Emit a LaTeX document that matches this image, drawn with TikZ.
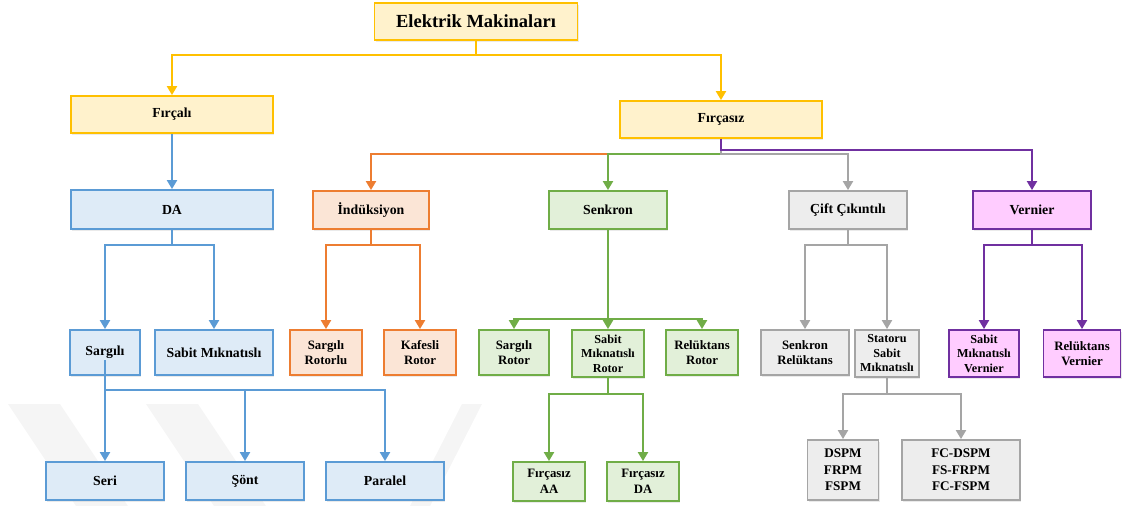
\documentclass[tikz,border=0pt]{standalone}
\usepackage{fontspec}
\setmainfont{Liberation Serif}
\usetikzlibrary{arrows.meta,shadows}
\definecolor{ylwD}{HTML}{FFC000}\definecolor{ylwL}{HTML}{FFF2CC}
\definecolor{bluD}{HTML}{5B9BD5}\definecolor{bluL}{HTML}{DEEBF7}
\definecolor{orgD}{HTML}{ED7D31}\definecolor{orgL}{HTML}{FBE5D6}
\definecolor{grnD}{HTML}{70AD47}\definecolor{grnL}{HTML}{E2F0D9}
\definecolor{gryD}{HTML}{A5A5A5}\definecolor{gryL}{HTML}{EDEDED}
\definecolor{prpD}{HTML}{7030A0}\definecolor{prpL}{HTML}{FFCCFF}
\definecolor{wmark}{HTML}{F5F5F5}
\begin{document}
\begin{tikzpicture}[x=1pt,y=-1pt,
  box/.style={draw, line width=1.8pt, inner sep=0pt, align=center,
    font=\bfseries\fontsize{13.8}{15}\selectfont,
    drop shadow={shadow xshift=1pt, shadow yshift=-2pt, opacity=0.18, fill=black!45}},
  wh/.style 2 args={minimum width=#1pt, minimum height=#2pt},
  ybox/.style={box, draw=ylwD, fill=ylwL},
  bbox/.style={box, draw=bluD, fill=bluL},
  obox/.style={box, draw=orgD, fill=orgL},
  gbox/.style={box, draw=grnD, fill=grnL},
  abox/.style={box, draw=gryD, fill=gryL},
  pbox/.style={box, draw=prpD, fill=prpL},
  twoline/.style={font=\bfseries\fontsize{12.8}{15.5}\selectfont},
  threeline/.style={font=\bfseries\fontsize{12.2}{14.5}\selectfont},
  link/.style={line width=2pt, -{Triangle[width=10pt,length=9pt]}},
  band/.style={fill=wmark},
]
\useasboundingbox (0,0) rectangle (1128,506);

% faint background bands
\fill[band] (8,404) -- (60,404) -- (128,506) -- (76,506) -- cycle;
\fill[band] (146,404) -- (198,404) -- (266,506) -- (214,506) -- cycle;
\fill[band] (462,404) -- (482,404) -- (430,506) -- (410,506) -- cycle;

% top levels
\node[ybox, wh={203}{37}, font=\bfseries\fontsize{18.5}{20}\selectfont] (em) at (476,21.5) {Elektrik Makinaları};
\node[ybox, wh={202}{37}] (fircali) at (172,114.5) {Fırçalı};
\node[ybox, wh={202}{37}] (fircasiz) at (721,119.5) {Fırçasız};

% second level
\node[bbox, wh={202}{39}] (da) at (172,209.5) {DA};
\node[obox, wh={116}{38}] (ind) at (371,210) {İndüksiyon};
\node[gbox, wh={118}{38}] (senk) at (608,210) {Senkron};
\node[abox, wh={118}{38}] (cift) at (848,210) {Çift Çıkıntılı};
\node[pbox, wh={118}{38}] (vern) at (1032,210) {Vernier};

% third level
\node[bbox, wh={70}{45}] (sargili) at (105,352.5) {Sargılı};
\node[bbox, wh={118}{45}] (sabitm) at (214,352.5) {Sabit Mıknatıslı};
\node[obox, twoline, wh={72}{45}] (srotorlu) at (326,352.5) {Sargılı\\Rotorlu};
\node[obox, twoline, wh={72}{45}] (kafesli) at (420,352.5) {Kafesli\\Rotor};
\node[gbox, twoline, wh={70}{45}] (srotor) at (514,352.5) {Sargılı\\Rotor};
\node[gbox, threeline, wh={72}{47}] (smrotor) at (608,353.5) {Sabit\\Mıknatıslı\\Rotor};
\node[gbox, twoline, wh={72}{45}] (relrotor) at (702,352.5) {Relüktans\\Rotor};
\node[abox, twoline, wh={88}{45}] (senrel) at (805,352.5) {Senkron\\Relüktans};
\node[abox, threeline, wh={64}{47}] (statoru) at (887,353.5) {Statoru\\Sabit\\Mıknatıslı};
\node[pbox, threeline, wh={70}{47}] (smvern) at (984,353.5) {Sabit\\Mıknatıslı\\Vernier};
\node[pbox, twoline, wh={77}{47}] (relvern) at (1082,353.5) {Relüktans\\Vernier};

% bottom level
\node[bbox, wh={118}{38}] (seri) at (105,481) {Seri};
\node[bbox, wh={118}{38}] (sont) at (245,481) {Şönt};
\node[bbox, wh={118}{38}] (paralel) at (385,481) {Paralel};
\node[gbox, twoline, wh={72}{39}] (faa) at (549,481.5) {Fırçasız\\AA};
\node[gbox, twoline, wh={72}{39}] (fda) at (643,481.5) {Fırçasız\\DA};
\node[abox, wh={71}{60}, font=\bfseries\fontsize{13.2}{16.5}\selectfont] (dspm) at (843,470) {DSPM\\FRPM\\FSPM};
\node[abox, wh={118}{60}, font=\bfseries\fontsize{13.2}{16.5}\selectfont] (fcdspm) at (961,470) {FC-DSPM\\FS-FRPM\\FC-FSPM};

% connectors
\draw[link, ylwD] (em.south) -- ++(0,14) -| (fircali.north);
\draw[link, ylwD] (em.south) -- ++(0,14) -| (fircasiz.north);
\draw[link, bluD] (fircali) -- (da);

\draw[link, orgD] (fircasiz.south) -- ++(0,15) -| (ind.north);
\draw[link, grnD] (fircasiz.south) -- ++(0,15) -| (senk.north);
\draw[link, gryD] (fircasiz.south) -- ++(0,15) -| (cift.north);
\draw[link, prpD] (fircasiz.south) -- ++(0,11) -| (vern.north);

\draw[link, bluD] (da.south) -- ++(0,15) -| (sargili.north);
\draw[link, bluD] (da.south) -- ++(0,15) -| (sabitm.north);

\coordinate (sgstart) at ([yshift=-7.5pt]sargili.center);
\draw[link, bluD] (sgstart) -- ++(0,30) -| (seri.north);
\draw[link, bluD] (sgstart) -- ++(0,30) -| (sont.north);
\draw[link, bluD] (sgstart) -- ++(0,30) -| (paralel.north);

\draw[link, orgD] (ind.south) -- ++(0,15) -| (srotorlu.north);
\draw[link, orgD] (ind.south) -- ++(0,15) -| (kafesli.north);

\draw[link, grnD] (senk.south) -- ++(0,89) -| (srotor.north);
\draw[link, grnD] (senk.south) -- ++(0,89) -| (smrotor.north);
\draw[link, grnD] (senk.south) -- ++(0,89) -| (relrotor.north);
\draw[link, grnD] (smrotor.south) -- ++(0,16) -| (faa.north);
\draw[link, grnD] (smrotor.south) -- ++(0,16) -| (fda.north);

\draw[link, gryD] (cift.south) -- ++(0,15) -| (senrel.north);
\draw[link, gryD] (cift.south) -- ++(0,15) -| (statoru.north);
\draw[link, gryD] (statoru.south) -- ++(0,16) -| (dspm.north);
\draw[link, gryD] (statoru.south) -- ++(0,16) -| (fcdspm.north);

\draw[link, prpD] (vern.south) -- ++(0,15) -| (smvern.north);
\draw[link, prpD] (vern.south) -- ++(0,15) -| (relvern.north);
\end{tikzpicture}
\end{document}
